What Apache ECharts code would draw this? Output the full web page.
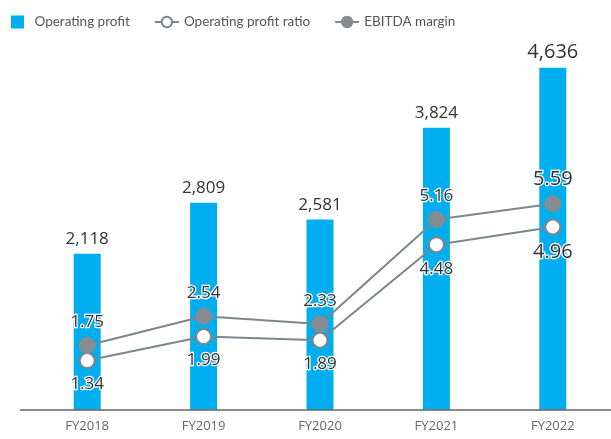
<!DOCTYPE html>
<html><head><meta charset="utf-8">
<script src="https://cdn.jsdelivr.net/npm/echarts@6/dist/echarts.min.js"></script>
<style>html,body{margin:0;padding:0;background:#fff}#c{width:611px;height:439px}</style>
</head><body><div id="c"></div>
<script>
const categories = ['FY2018','FY2019','FY2020','FY2021','FY2022'];
const operatingProfit = [2118, 2809, 2581, 3824, 4636];
const operatingProfitRatio = [1.34, 1.99, 1.89, 4.48, 4.96];
const ebitdaMargin = [1.75, 2.54, 2.33, 5.16, 5.59];

const FONT = "'Open Sans', 'Noto Sans', sans-serif";
const last = categories.length - 1;
const big = {fontSize: 20};

const chart = echarts.init(document.getElementById('c'), null, {renderer: 'canvas'});
chart.setOption({
  animation: false,
  textStyle: {fontFamily: FONT},
  legend: {
    left: 6, top: 10, itemGap: 24, itemWidth: 24, itemHeight: 13,
    textStyle: {fontSize: 13.5, color: '#555', fontFamily: 'Lato'},
    data: [
      {name: 'Operating profit', icon: 'path://M0,0H12V12H0Z', itemStyle: {color: '#00aeef'}},
      {name: 'Operating profit ratio'},
      {name: 'EBITDA margin'}
    ]
  },
  grid: {left: 29, right: -4, top: 41, bottom: 29},
  xAxis: {
    type: 'category', data: categories,
    axisLine: {show: false}, axisTick: {show: false},
    axisLabel: {color: '#666', fontSize: 13, margin: 10, fontFamily: FONT}
  },
  yAxis: [
    {type: 'value', min: 0, max: 5000, show: false, splitLine: {show: false}},
    {type: 'value', min: 0, max: 10, show: false, splitLine: {show: false}}
  ],
  graphic: [{type: 'line', shape: {x1: 20, y1: 410, x2: 611, y2: 410}, style: {stroke: '#666', lineWidth: 1.5}, z: 100}],
  series: [
    {
      name: 'Operating profit', type: 'bar', yAxisIndex: 0, barWidth: 27,
      itemStyle: {color: '#00aeef'},
      data: operatingProfit.map((v, i) => i === last ? {value: v, label: big} : v),
      label: {show: true, position: 'top', distance: 6, color: '#333', fontSize: 17,
        formatter: p => p.value.toLocaleString('en-US')},
      z: 2
    },
    {
      name: 'Operating profit ratio', type: 'line', yAxisIndex: 1,
      symbol: 'circle', symbolSize: 15,
      lineStyle: {color: '#7b868d', width: 2},
      itemStyle: {color: '#ffffff', borderColor: '#7b868d', borderWidth: 2},
      data: operatingProfitRatio.map((v, i) => i === last ? {value: v, label: big} : v),
      label: {show: true, position: 'bottom', distance: 7, color: '#333', fontSize: 17,
        textBorderColor: '#fff', textBorderWidth: 2.5,
        formatter: p => p.value.toFixed(2)},
      z: 5
    },
    {
      name: 'EBITDA margin', type: 'line', yAxisIndex: 1,
      symbol: 'circle', symbolSize: 16,
      lineStyle: {color: '#7b868d', width: 2},
      itemStyle: {color: '#858d93', borderColor: '#858d93', borderWidth: 1},
      data: ebitdaMargin.map((v, i) => i === last ? {value: v, label: big} : v),
      label: {show: true, position: 'top', distance: 6, color: '#333', fontSize: 17,
        textBorderColor: '#fff', textBorderWidth: 2.5,
        formatter: p => p.value.toFixed(2)},
      z: 5
    }
  ]
});
</script></body></html>
